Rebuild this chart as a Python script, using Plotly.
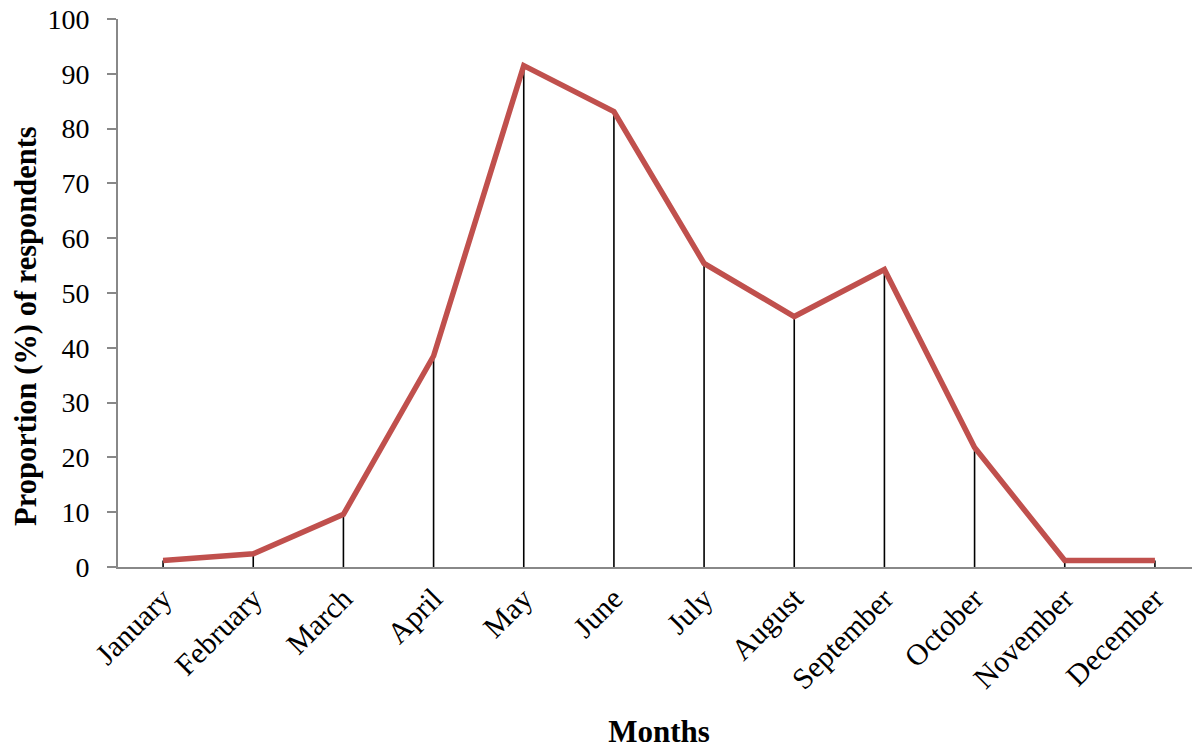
import plotly.graph_objects as go

months = ["January", "February", "March", "April", "May", "June", "July",
          "August", "September", "October", "November", "December"]
proportion = [1.2, 2.4, 9.6, 38.5, 91.5, 83.1, 55.4, 45.7, 54.3, 21.8, 1.2, 1.2]
y_ticks = [0, 10, 20, 30, 40, 50, 60, 70, 80, 90, 100]

font_family = "Liberation Serif, Times New Roman, serif"

fig = go.Figure()
fig.add_trace(go.Scatter(
    x=months, y=proportion, mode="lines",
    line=dict(color="#C0504D", width=5.5),
    error_y=dict(type="data", symmetric=False, array=[0] * len(proportion),
                 arrayminus=proportion, color="black", thickness=1.6, width=0),
    showlegend=False,
))

fig.update_layout(
    width=1200, height=749,
    paper_bgcolor="white", plot_bgcolor="white",
    margin=dict(l=110, r=8, t=11, b=190, autoexpand=False),
    font=dict(family=font_family, color="black"),
)
fig.update_xaxes(
    type="category", range=[-0.5, 11.5], automargin=False,
    showline=True, linecolor="#888888", linewidth=2,
    showgrid=False, ticks="", tickangle=-45,
    tickfont=dict(size=30, family=font_family),
    title=dict(text="<b>Months</b>", font=dict(size=31, family=font_family), standoff=26),
)
fig.update_yaxes(
    range=[0, 100], tickvals=y_ticks, automargin=False,
    showline=True, linecolor="#888888", linewidth=2,
    showgrid=False, zeroline=False,
    ticks="outside", ticklen=9, tickcolor="#888888", tickwidth=2,
    ticklabelstandoff=12, ticklabeloverflow="allow",
    tickfont=dict(size=28, family=font_family),
)
fig.add_annotation(
    text="<b>Proportion (%) of respondents</b>", textangle=-90,
    xref="paper", yref="paper", x=0, y=0.44, xanchor="center", yanchor="middle",
    xshift=-92, showarrow=False,
    font=dict(size=30.5, family=font_family, color="black"),
)

fig.write_html("out.html")
